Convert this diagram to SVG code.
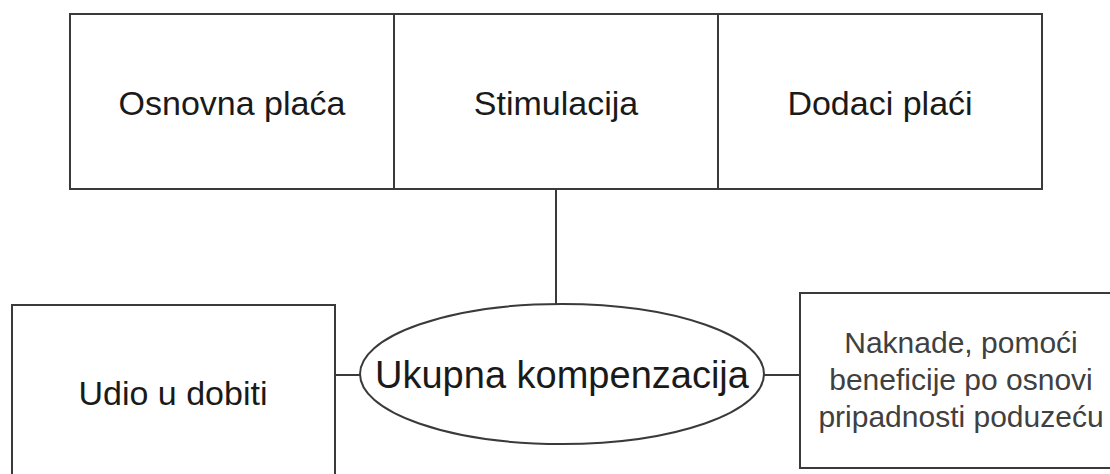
<svg xmlns="http://www.w3.org/2000/svg" width="1110" height="474" viewBox="0 0 1110 474">
<style>
.box{fill:#fff;stroke:#3a3a3a;stroke-width:2}
.ln{stroke:#3a3a3a;stroke-width:2;fill:none}
.t{font-family:"Liberation Sans",Arial,sans-serif;fill:#1a1a1a;text-anchor:middle}
</style>
<rect width="1110" height="474" fill="#fff"/>
<g id="connectors">
<line class="ln" x1="556" y1="189" x2="556" y2="304"/>
<line class="ln" x1="335" y1="375" x2="360" y2="375"/>
<line class="ln" x1="764" y1="375" x2="800" y2="375"/>
</g>
<g id="osnovna">
<rect class="box" x="70" y="14" width="324" height="175"/>
<text class="t" x="232" y="115" font-size="34">Osnovna plaća</text>
</g>
<g id="stimulacija">
<rect class="box" x="394" y="14" width="324" height="175"/>
<text class="t" x="556" y="115" font-size="34">Stimulacija</text>
</g>
<g id="dodaci">
<rect class="box" x="718" y="14" width="324" height="175"/>
<text class="t" x="880" y="115" font-size="34">Dodaci plaći</text>
</g>
<g id="udio">
<rect class="box" x="12" y="305" width="323" height="190"/>
<text class="t" x="173" y="405" font-size="34">Udio u dobiti</text>
</g>
<g id="ukupna">
<ellipse class="box" cx="562" cy="374" rx="202" ry="70"/>
<text class="t" x="562" y="388" font-size="38">Ukupna kompenzacija</text>
</g>
<g id="naknade">
<rect class="box" x="800" y="293" width="330" height="175"/>
<text class="t" x="961" y="353" font-size="30" style="fill:#404040">Naknade, pomoći</text>
<text class="t" x="961" y="390" font-size="30" style="fill:#404040">beneficije po osnovi</text>
<text class="t" x="961" y="427" font-size="30" style="fill:#404040">pripadnosti poduzeću</text>
</g>
</svg>
